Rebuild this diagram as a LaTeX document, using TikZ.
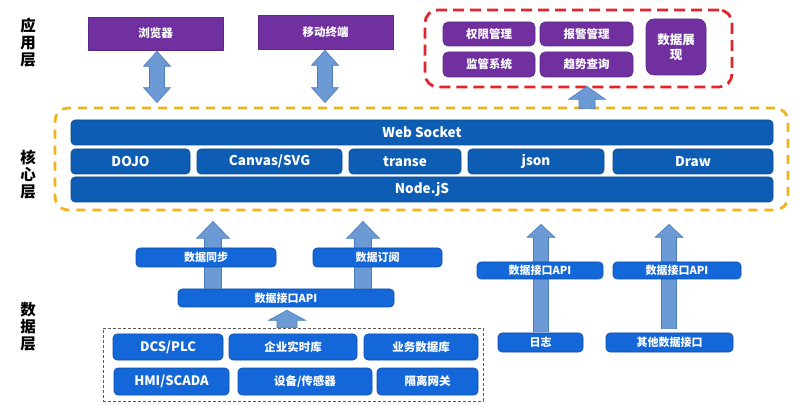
\documentclass[tikz,border=0pt]{standalone}
\usepackage{fontspec}
\setmainfont{Noto Sans CJK SC}
\usetikzlibrary{calc}
\definecolor{purp}{HTML}{7030A0}
\definecolor{purpd}{HTML}{5E2888}
\definecolor{coreblue}{HTML}{0D5DB5}
\definecolor{coreblued}{HTML}{0A4A90}
\definecolor{datablue}{HTML}{1467D8}
\definecolor{datablued}{HTML}{0E4FA8}
\definecolor{arrfill}{HTML}{6C9AD5}
\definecolor{arrline}{HTML}{4D7CBD}
\definecolor{ydash}{HTML}{F0B41E}
\definecolor{rdash}{HTML}{E3242B}
\tikzset{
  base/.style={inner sep=0pt, text=white, font=\bfseries},
  pbox/.style={base, fill=purp, draw=purpd, line width=0.6pt, font=\bfseries\fontsize{11.5}{13}\selectfont},
  prbox/.style={pbox, rounded corners=5pt},
  corebar/.style={base, fill=coreblue, draw=coreblued, line width=0.6pt, rounded corners=4pt, font=\bfseries\fontsize{13.5}{15}\selectfont},
  dbox/.style={base, fill=datablue, draw=datablued, line width=0.6pt, rounded corners=4pt, font=\bfseries\fontsize{13}{15}\selectfont},
  dsmall/.style={dbox, font=\bfseries\fontsize{11}{12}\selectfont},
  dcjk/.style={dbox, font=\bfseries\fontsize{11.5}{13}\selectfont},
  barrow/.style={fill=arrfill, draw=arrline, line width=0.6pt, line join=miter},
  layerlab/.style={font=\bfseries\fontsize{15.5}{19}\selectfont, align=center, text=black},
}
% box by corners: name, x1, y1, x2, y2, style, text
\newcommand\bx[7]{\node[#6, minimum width={(#4-#2)*1pt}, minimum height={(#5-#3)*1pt}] (#1) at ({(#2+#4)/2},{(#3+#5)/2}) {#7};}
% up block arrow: from, to, shaft half, head half, head length
\newcommand\blkup[5]{\draw[barrow] let \p1=(#1), \p2=(#2) in
  (\x1-#3pt,\y1) -- (\x1-#3pt,\y2-#5pt) -- (\x1-#4pt,\y2-#5pt) -- (\x1,\y2) --
  (\x1+#4pt,\y2-#5pt) -- (\x1+#3pt,\y2-#5pt) -- (\x1+#3pt,\y1) -- cycle;}
% double vertical block arrow: top, bottom, shaft half, head half, head length
\newcommand\blkdbl[5]{\draw[barrow] let \p1=(#1), \p2=(#2) in
  (\x1,\y1) -- (\x1+#4pt,\y1-#5pt) -- (\x1+#3pt,\y1-#5pt) -- (\x1+#3pt,\y2+#5pt) --
  (\x1+#4pt,\y2+#5pt) -- (\x1,\y2) -- (\x1-#4pt,\y2+#5pt) -- (\x1-#3pt,\y2+#5pt) --
  (\x1-#3pt,\y1-#5pt) -- (\x1-#4pt,\y1-#5pt) -- cycle;}
\begin{document}
\begin{tikzpicture}[x=1pt,y=-1pt]
\useasboundingbox (0,0) rectangle (800,411);
\fill[white] (0,0) rectangle (800,411);

% layer labels
\node[layerlab] (l1) at (28,43) {应\\[-2pt]用\\[-2pt]层};
\node[layerlab] (l2) at (28,175) {核\\[-2pt]心\\[-2pt]层};
\node[layerlab] (l3) at (28,327) {数\\[-2pt]据\\[-2pt]层};

% dashed containers
\node[draw=ydash, line width=2.8pt, dash pattern=on 9pt off 7pt, rounded corners=13pt,
  minimum width=733pt, minimum height=102pt, inner sep=0pt] (ybox) at (421.5,159) {};
\node[draw=rdash, line width=2.8pt, dash pattern=on 11pt off 6pt, rounded corners=13pt,
  minimum width=307pt, minimum height=77pt, inner sep=0pt] (rbox) at (578.5,48.5) {};
\node[draw=black!65, line width=0.7pt, dash pattern=on 3pt off 2pt,
  minimum width=380pt, minimum height=73pt, inner sep=0pt] (gbox) at (293,364.5) {};

% coordinates for arrow axes
\coordinate (xa) at (157,0);
\coordinate (xb) at (325,0);
\coordinate (xc) at (587,0);
\coordinate (xd) at (213,0);
\coordinate (xe) at (363,0);
\coordinate (xf) at (287,0);
\coordinate (xg) at (541,0);
\coordinate (xh) at (669,0);

% top apps
\bx{brw}{88}{17}{223}{50}{pbox}{浏览器}
\bx{mob}{258}{15}{393}{49}{pbox}{移动终端}

% red group
\bx{qx}{443}{22}{535}{46}{prbox}{权限管理}
\bx{bj}{540}{22}{633}{46}{prbox}{报警管理}
\bx{jg}{443}{52}{535}{77}{prbox}{监管系统}
\bx{qs}{540}{52}{633}{77}{prbox}{趋势查询}
\node[prbox, rounded corners=8pt, minimum width=60pt, minimum height=56pt, align=center,
  font=\bfseries\fontsize{12.5}{15}\selectfont] (zx) at (676,47) {数据展\\现};

% arrows (drawn before boxes so boxes sit on top)
\blkdbl{$(xa |- brw.south)+(0,1)$}{$(xa |- ybox.north)+(0,-4)$}{7.5}{13.5}{15}
\blkdbl{$(xb |- mob.south)+(0,1)$}{$(xb |- ybox.north)+(0,-4)$}{7.5}{13.5}{15}
\blkup{$(xc |- ybox.north)+(0,2)$}{$(xc |- rbox.south)+(0,-2)$}{8}{18.5}{13}

% core layer
\bx{ws}{71}{120}{773}{145}{corebar}{Web Socket}
\bx{dojo}{71}{149}{190}{174}{corebar}{DOJO}
\bx{cvs}{197}{149}{342}{174}{corebar}{Canvas/SVG}
\bx{tr}{349}{149}{461}{174}{corebar}{transe}
\bx{js}{468}{149}{604}{174}{corebar}{json}
\bx{dr}{613}{149}{773}{174}{corebar}{Draw}
\bx{nd}{71}{177}{773}{202}{corebar}{Node.jS}

% data layer boxes (positions)
\bx{api1}{178}{289}{394}{307}{dsmall}{数据接口API}
\bx{rz}{498}{333}{583}{352}{dsmall}{日志}
\bx{qt}{606}{333}{733}{352}{dsmall}{其他数据接口}

% data layer arrows
\blkup{xd |- api1.north}{$(xd |- ybox.south)+(0,10)$}{8.5}{16.5}{17}
\blkup{xe |- api1.north}{$(xe |- ybox.south)+(0,10)$}{8.5}{16.5}{17}
\blkup{xf |- gbox.north}{$(xf |- api1.south)+(0,3)$}{10}{18.5}{10}
\blkup{$(xg |- rz.north)+(0,-1)$}{$(xg |- ybox.south)+(0,13)$}{7.5}{14}{13}
\blkup{$(xh |- qt.north)+(0,-4)$}{$(xh |- ybox.south)+(0,13)$}{7.5}{14}{13}

% boxes over arrows
\bx{sync}{136}{248}{276}{267}{dsmall}{数据同步}
\bx{sub}{313}{248}{442}{267}{dsmall}{数据订阅}
\bx{api2}{477}{262}{603}{279}{dsmall}{数据接口API}
\bx{api3}{613}{262}{741}{279}{dsmall}{数据接口API}

\bx{dcs}{113}{334}{223}{360}{dbox}{DCS/PLC}
\bx{qy}{229}{334}{357}{360}{dcjk}{企业实时库}
\bx{yw}{364}{334}{478}{360}{dcjk}{业务数据库}
\bx{hmi}{114}{368}{229}{395}{dbox}{HMI/SCADA}
\bx{sb}{238}{368}{372}{395}{dcjk}{设备/传感器}
\bx{gl}{377}{368}{478}{395}{dcjk}{隔离网关}
\end{tikzpicture}
\end{document}
